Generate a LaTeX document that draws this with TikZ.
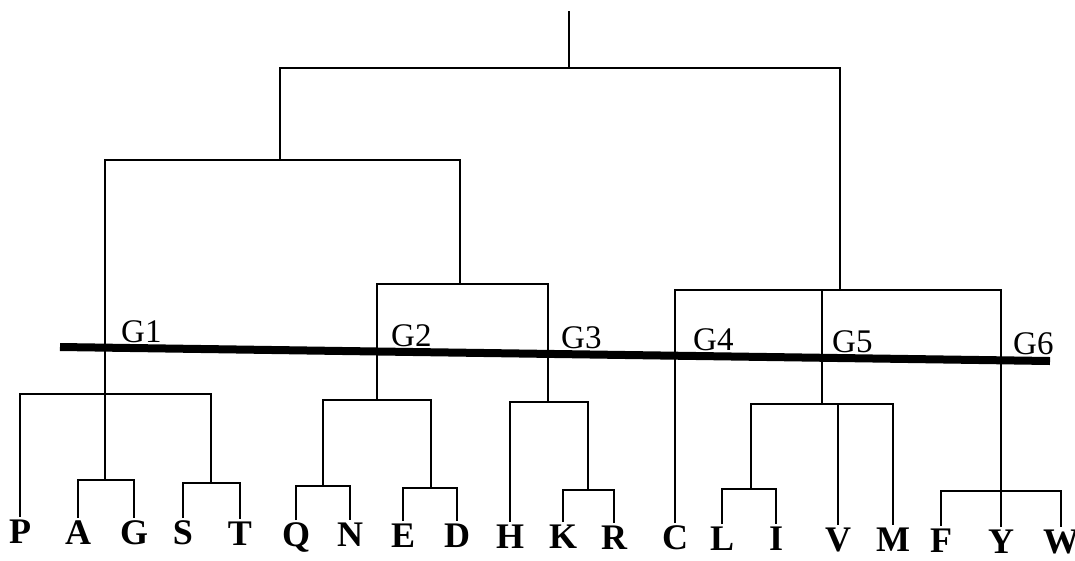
\documentclass[tikz,border=0pt]{standalone}
\usepackage{fontspec}
\setmainfont{Liberation Serif}
\tikzset{
    branch/.style = {line width=1.5pt},
    leaf/.style = {font=\fontsize{36}{38}\selectfont\bfseries, inner sep=0pt, outer ysep=3pt, anchor=north},
    grp/.style = {font=\fontsize{33}{36}\selectfont, inner sep=0pt, anchor=base west},
    cutline/.style = {line width=8pt}
}

\begin{document}
\begin{tikzpicture}[x=1pt,y=-1pt]
    \useasboundingbox (0,0) rectangle (1075,560);

    % leaves
    \foreach \n/\x/\y in {P/20/517, A/78/518, G/134/518, S/183/518, T/240/519,
        Q/296/520, N/350/520, E/403/521, D/457/521, H/510/522, K/563/522, R/614/523,
        C/675/523, L/722/524, I/776/524, V/838/525, M/893/525, F/941/526, Y/1001/527, W/1061/527}
        \node[leaf] (\n) at (\x,\y) {\n};

    % joins
    \coordinate (AG) at (105,480);
    \coordinate (ST) at (211,483);
    \coordinate (g1) at (105,394);
    \coordinate (QN) at (323,486);
    \coordinate (ED) at (431,488);
    \coordinate (g2) at (377,400);
    \coordinate (KR) at (588,490);
    \coordinate (g3) at (548,402);
    \coordinate (g23) at (460,284);
    \coordinate (lft) at (280,160);
    \coordinate (LI) at (751,489);
    \coordinate (g5) at (822,404);
    \coordinate (FYW) at (1001,491);
    \coordinate (rgt) at (840,290);
    \coordinate (root) at (569,68);
    \coordinate (top) at (569,11);

    \draw[branch] (A) |- (AG) -| (G);
    \draw[branch] (S) |- (ST) -| (T);
    \draw[branch] (P) |- (g1) -| (ST);
    \draw[branch] (AG) -- (g1);
    \draw[branch] (Q) |- (QN) -| (N);
    \draw[branch] (E) |- (ED) -| (D);
    \draw[branch] (QN) |- (g2) -| (ED);
    \draw[branch] (K) |- (KR) -| (R);
    \draw[branch] (H) |- (g3) -| (KR);
    \draw[branch] (g2) |- (g23) -| (g3);
    \draw[branch] (g1) |- (lft) -| (g23);

    \draw[branch] (L) |- (LI) -| (I);
    \draw[branch] (LI) |- (g5) -| (M);
    \draw[branch] (V) -- (V |- g5);
    \draw[branch] (F) |- (FYW) -| (W);
    \draw[branch] (Y) -- (FYW);
    \draw[branch] (C) |- (rgt) -| (FYW);
    \draw[branch] (g5) -- (g5 |- rgt);

    \draw[branch] (lft) |- (root) -| (rgt);
    \draw[branch] (root) -- (top);

    % cut line and groups
    \coordinate (cutL) at (60,347);
    \coordinate (cutR) at (1050,361);
    \draw[cutline] (cutL) -- (cutR);
    \foreach \i/\x/\y in {1/121/342, 2/391/346, 3/561/348, 4/693/350, 5/832/352, 6/1013/354}
        \node[grp] (grp\i) at (\x,\y) {G\i};

\end{tikzpicture}
\end{document}
